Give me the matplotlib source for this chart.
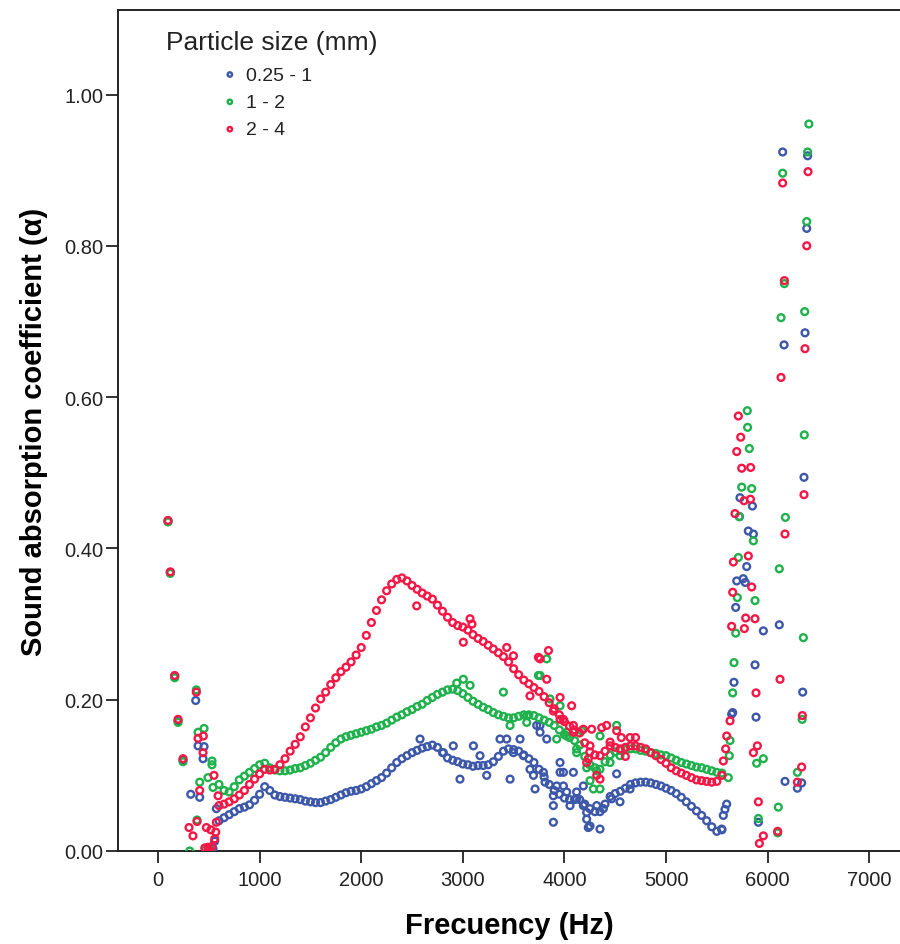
import numpy as np
import matplotlib
matplotlib.use('Agg')
import matplotlib.pyplot as plt

plt.rcParams['font.family'] = ['Liberation Sans', 'DejaVu Sans']

# measurement grid of the dense part (Hz)
freq = [600, 650, 700, 750, 800, 850, 900, 950, 1000, 1050,
        1100, 1150, 1200, 1250, 1300, 1350, 1400, 1450, 1500, 1550,
        1600, 1650, 1700, 1750, 1800, 1850, 1900, 1950, 2000, 2050,
        2100, 2150, 2200, 2250, 2300, 2350, 2400, 2450, 2500, 2550,
        2600, 2650, 2700, 2750, 2800, 2850, 2900, 2950, 3000, 3050,
        3100, 3150, 3200, 3250, 3300, 3350, 3400, 3450, 3500, 3550,
        3600, 3650, 3700, 3750, 3800, 3850, 3900, 3950, 4000, 4050,
        4100, 4150, 4200, 4250, 4300, 4350, 4400, 4450, 4500, 4550,
        4600, 4650, 4700, 4750, 4800, 4850, 4900, 4950, 5000, 5050,
        5100, 5150, 5200, 5250, 5300, 5350, 5400, 5450, 5500, 5550]

small = [0.040, 0.044, 0.048, 0.052, 0.056, 0.058, 0.061, 0.067, 0.075, 0.085,
         0.080, 0.074, 0.072, 0.071, 0.070, 0.069, 0.068, 0.066, 0.065, 0.064,
         0.064, 0.066, 0.068, 0.071, 0.074, 0.077, 0.079, 0.080, 0.082, 0.085,
         0.089, 0.093, 0.097, 0.103, 0.110, 0.117, 0.122, 0.126, 0.130, 0.133,
         0.136, 0.138, 0.140, 0.137, 0.130, 0.123, 0.120, 0.118, 0.115, 0.114,
         0.112, 0.113, 0.113, 0.114, 0.118, 0.125, 0.132, 0.135, 0.134, 0.132,
         0.127, 0.122, 0.117, 0.108, 0.098, 0.088, 0.080, 0.075, 0.070, 0.068,
         0.068, 0.068, 0.062, 0.056, 0.052, 0.052, 0.062, 0.072, 0.076, 0.079,
         0.083, 0.088, 0.090, 0.091, 0.091, 0.090, 0.088, 0.086, 0.083, 0.080,
         0.076, 0.071, 0.065, 0.059, 0.053, 0.047, 0.040, 0.032, 0.026, 0.028]

medium = [0.088, 0.080, 0.078, 0.085, 0.094, 0.099, 0.104, 0.109, 0.114, 0.116,
          0.110, 0.107, 0.106, 0.106, 0.107, 0.109, 0.110, 0.113, 0.116, 0.120,
          0.124, 0.130, 0.137, 0.143, 0.148, 0.151, 0.153, 0.155, 0.157, 0.159,
          0.161, 0.164, 0.166, 0.169, 0.173, 0.177, 0.180, 0.184, 0.187, 0.191,
          0.194, 0.199, 0.203, 0.207, 0.210, 0.213, 0.214, 0.212, 0.208, 0.203,
          0.198, 0.194, 0.190, 0.187, 0.183, 0.180, 0.178, 0.176, 0.176, 0.178,
          0.180, 0.180, 0.179, 0.176, 0.173, 0.170, 0.166, 0.160, 0.154, 0.150,
          0.146, 0.140, 0.125, 0.114, 0.110, 0.108, 0.118, 0.127, 0.131, 0.133,
          0.134, 0.135, 0.135, 0.133, 0.132, 0.130, 0.129, 0.127, 0.126, 0.123,
          0.120, 0.117, 0.115, 0.113, 0.111, 0.110, 0.108, 0.106, 0.104, 0.103]

large = [0.060, 0.062, 0.065, 0.069, 0.074, 0.080, 0.088, 0.095, 0.102, 0.108,
         0.107, 0.108, 0.114, 0.122, 0.132, 0.141, 0.151, 0.164, 0.176, 0.189,
         0.201, 0.210, 0.220, 0.229, 0.237, 0.243, 0.250, 0.259, 0.269, 0.285,
         0.302, 0.318, 0.332, 0.344, 0.353, 0.359, 0.361, 0.357, 0.351, 0.346,
         0.341, 0.337, 0.333, 0.325, 0.317, 0.309, 0.302, 0.298, 0.296, 0.292,
         0.286, 0.281, 0.277, 0.272, 0.267, 0.262, 0.257, 0.250, 0.241, 0.233,
         0.226, 0.221, 0.216, 0.211, 0.204, 0.196, 0.188, 0.180, 0.171, 0.165,
         0.160, 0.156, 0.143, 0.131, 0.127, 0.126, 0.132, 0.139, 0.137, 0.135,
         0.137, 0.139, 0.139, 0.137, 0.135, 0.130, 0.126, 0.121, 0.116, 0.110,
         0.106, 0.103, 0.100, 0.097, 0.094, 0.093, 0.092, 0.091, 0.092, 0.100]

# sparse / scattered readings (Hz, alpha)
small_extra = [(98, 0.436), (121, 0.368), (164, 0.231), (197, 0.172), (246, 0.120),
               (322, 0.075), (371, 0.199), (394, 0.139), (410, 0.071), (443, 0.122),
               (453, 0.138), (520, 0.001), (541, 0.003), (558, 0.013), (574, 0.056),
               (2579, 0.148), (2808, 0.130), (2906, 0.139), (2972, 0.095), (3104, 0.139),
               (3169, 0.126), (3235, 0.100), (3366, 0.148), (3432, 0.148), (3465, 0.095),
               (3498, 0.130), (3563, 0.148), (3596, 0.126), (3661, 0.108), (3695, 0.100),
               (3711, 0.082), (3727, 0.166), (3760, 0.166), (3760, 0.157), (3793, 0.104),
               (3809, 0.091), (3826, 0.148), (3891, 0.060), (3891, 0.038), (3891, 0.073),
               (3924, 0.086), (3957, 0.104), (3957, 0.117), (3990, 0.086), (3990, 0.104),
               (4022, 0.078), (4055, 0.060), (4088, 0.104), (4120, 0.069), (4120, 0.078),
               (4186, 0.086), (4186, 0.060), (4219, 0.051), (4219, 0.042), (4235, 0.031),
               (4252, 0.033), (4318, 0.060), (4350, 0.029), (4383, 0.056), (4465, 0.069),
               (4514, 0.102), (4547, 0.065), (4646, 0.082),
               (5548, 0.029), (5564, 0.047), (5580, 0.055), (5597, 0.062), (5646, 0.181),
               (5656, 0.183), (5669, 0.223), (5686, 0.322), (5696, 0.357), (5722, 0.442),
               (5728, 0.467), (5760, 0.360), (5780, 0.355), (5794, 0.376), (5810, 0.423),
               (5850, 0.456), (5860, 0.419), (5876, 0.246), (5886, 0.177), (5909, 0.038),
               (5958, 0.291), (6115, 0.299), (6148, 0.924), (6162, 0.669), (6171, 0.092),
               (6293, 0.083), (6335, 0.090), (6345, 0.210), (6358, 0.494), (6368, 0.685),
               (6385, 0.823), (6394, 0.919)]

medium_extra = [(98, 0.435), (121, 0.367), (164, 0.229), (197, 0.170), (246, 0.118),
                (312, 0.000), (377, 0.213), (384, 0.041), (394, 0.157), (410, 0.091),
                (453, 0.162), (470, 0.003), (492, 0.097), (510, 0.002), (531, 0.119),
                (531, 0.114), (541, 0.084),
                (2940, 0.222), (3005, 0.227), (3071, 0.219), (3399, 0.210), (3465, 0.166),
                (3629, 0.170), (3629, 0.179), (3744, 0.232), (3760, 0.232), (3826, 0.254),
                (3858, 0.201), (3924, 0.148), (3957, 0.192), (4022, 0.157), (4022, 0.152),
                (4120, 0.135), (4120, 0.130), (4170, 0.159), (4219, 0.110), (4252, 0.093),
                (4285, 0.082), (4318, 0.106), (4350, 0.082), (4350, 0.152), (4449, 0.117),
                (4514, 0.166), (4547, 0.126),
                (5613, 0.097), (5623, 0.126), (5630, 0.146), (5656, 0.209), (5669, 0.249),
                (5686, 0.288), (5702, 0.335), (5712, 0.388), (5722, 0.442), (5745, 0.481),
                (5800, 0.582), (5803, 0.560), (5820, 0.532), (5843, 0.479), (5860, 0.410),
                (5876, 0.331), (5892, 0.116), (5909, 0.043), (5958, 0.122), (6099, 0.024),
                (6105, 0.058), (6115, 0.373), (6132, 0.705), (6148, 0.896), (6165, 0.750),
                (6175, 0.441), (6293, 0.104), (6340, 0.174), (6352, 0.282), (6361, 0.550),
                (6365, 0.713), (6385, 0.832), (6394, 0.924), (6406, 0.961)]

large_extra = [(98, 0.437), (121, 0.369), (164, 0.232), (197, 0.174), (246, 0.122),
               (305, 0.031), (344, 0.020), (377, 0.210), (384, 0.039), (394, 0.149),
               (410, 0.080), (443, 0.130), (446, 0.152), (460, 0.004), (476, 0.031),
               (492, 0.005), (500, 0.002), (520, 0.028), (530, 0.006), (551, 0.100),
               (558, 0.016), (568, 0.025), (574, 0.038), (591, 0.073),
               (2546, 0.324), (3005, 0.276), (3071, 0.307), (3090, 0.300), (3432, 0.269),
               (3498, 0.258), (3661, 0.205), (3744, 0.256), (3760, 0.254), (3826, 0.227),
               (3843, 0.265), (3891, 0.185), (3957, 0.203), (3957, 0.174), (3990, 0.174),
               (4071, 0.192), (4088, 0.157), (4088, 0.166), (4186, 0.161), (4219, 0.117),
               (4235, 0.122), (4252, 0.139), (4268, 0.161), (4318, 0.100), (4350, 0.095),
               (4367, 0.163), (4416, 0.166), (4449, 0.144), (4514, 0.159), (4560, 0.150),
               (4600, 0.125), (4646, 0.150), (4700, 0.150),
               (5564, 0.119), (5587, 0.135), (5597, 0.152), (5630, 0.172), (5646, 0.297),
               (5656, 0.342), (5663, 0.382), (5679, 0.446), (5696, 0.528), (5712, 0.575),
               (5735, 0.547), (5745, 0.506), (5768, 0.463), (5771, 0.294), (5784, 0.308),
               (5810, 0.390), (5831, 0.465), (5833, 0.507), (5843, 0.349), (5860, 0.130),
               (5876, 0.307), (5886, 0.209), (5899, 0.139), (5909, 0.065), (5919, 0.010),
               (5958, 0.020), (6099, 0.026), (6122, 0.227), (6132, 0.626), (6148, 0.883),
               (6165, 0.754), (6171, 0.419), (6293, 0.091), (6335, 0.111), (6342, 0.179),
               (6358, 0.471), (6368, 0.664), (6385, 0.800), (6398, 0.898)]

labels = ['0.25 - 1', '1 - 2', '2 - 4']
colors = ['#3d58a9', '#1fb14c', '#f41846']

fig = plt.figure(figsize=(9, 9.45), dpi=100)
ax = fig.add_axes([118/900, 1 - 852/945, 1 - 118/900, (852 - 11)/945])

series = [(small, small_extra), (medium, medium_extra), (large, large_extra)]
handles = []
for (main, extra), lab, col in zip(series, labels, colors):
    ex_f = [p[0] for p in extra]
    ex_v = [p[1] for p in extra]
    xs = ex_f + freq
    ys = ex_v + main
    h = ax.scatter(xs, ys, s=24, facecolors='none', edgecolors=col,
                   linewidths=1.7, label=lab, zorder=3)
    handles.append(h)

ax.set_xlim(-394, 7303)
ax.set_ylim(0, 1.1117)
ax.set_xticks([0, 1000, 2000, 3000, 4000, 5000, 6000, 7000])
ax.set_yticks([0, 0.2, 0.4, 0.6, 0.8, 1.0])
ax.set_yticklabels(['%.2f' % v for v in [0, 0.2, 0.4, 0.6, 0.8, 1.0]])
ax.tick_params(direction='out', length=8.5, width=1.3, labelsize=14.5,
               colors='#222222')
ax.tick_params(axis='x', pad=5)
ax.tick_params(axis='y', pad=2)
for sp in ['left', 'bottom', 'top']:
    ax.spines[sp].set_linewidth(1.4)
    ax.spines[sp].set_color('#222222')
ax.spines['right'].set_visible(False)

ax.set_xlabel('Frecuency (Hz)', fontsize=21, fontweight='bold', labelpad=16)
ax.set_ylabel('Sound absorption coefficient (\u03b1)', fontsize=21,
              fontweight='bold', labelpad=12)

fig.text(166/900, 1 - 50/945, 'Particle size (mm)', fontsize=19,
         va='baseline', ha='left', color='#222222')
leg = ax.legend(handles=handles, loc='upper left',
                bbox_to_anchor=(224/900, 1 - 67/945),
                bbox_transform=fig.transFigure, frameon=False, fontsize=14,
                handlelength=0.6, handletextpad=0.55, labelspacing=0.5,
                borderpad=0, borderaxespad=0, scatterpoints=1, markerscale=0.65)
for t in leg.get_texts():
    t.set_color('#222222')

fig.savefig('out.png', dpi=100)
